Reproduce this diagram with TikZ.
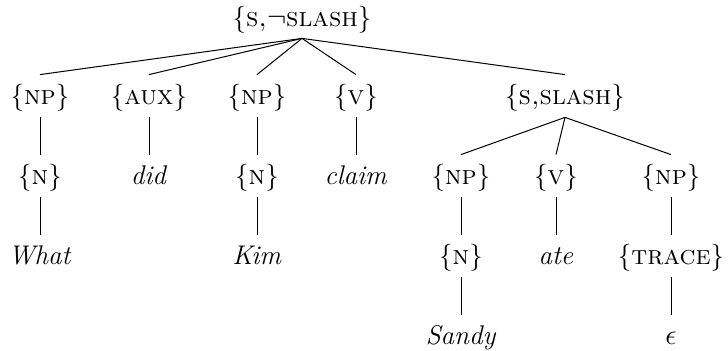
\documentclass[tikz,border=0pt]{standalone}
\begin{document}
\begin{tikzpicture}[x=0.5pt,y=-0.5pt,
  tn/.style={anchor=base, inner xsep=1pt, inner ysep=0pt,
    text height=15pt, text depth=6pt, font=\fontsize{13.5}{16}\selectfont},
  branch/.style={line width=0.5pt}]
\useasboundingbox (0,0) rectangle (728,351);

% root
\node[tn, text height=9pt, text depth=5.5pt] (root) at (302,27) {\{\textsc{s,$\neg$slash}\}};

% first level
\node[tn] (np1) at (40,105)  {\{\textsc{np}\}};
\node[tn] (aux) at (149,105) {\{\textsc{aux}\}};
\node[tn] (np2) at (257,105) {\{\textsc{np}\}};
\node[tn] (v1)  at (356,105) {\{\textsc{v}\}};
\node[tn] (ss)  at (565,105) {\{\textsc{s,slash}\}};

% second level
\node[tn] (n1)    at (40,185)  {\{\textsc{n}\}};
\node[tn] (did)   at (149,185) {\textit{did}};
\node[tn] (n2)    at (257,185) {\{\textsc{n}\}};
\node[tn] (claim) at (356,185) {\textit{claim}};
\node[tn] (np3)   at (461,185) {\{\textsc{np}\}};
\node[tn] (v2)    at (556,185) {\{\textsc{v}\}};
\node[tn] (np4)   at (671,185) {\{\textsc{np}\}};

% third level
\node[tn] (what)  at (40,265)  {\textit{What}};
\node[tn] (kim)   at (257,265) {\textit{Kim}};
\node[tn] (n3)    at (461,265) {\{\textsc{n}\}};
\node[tn] (ate)   at (556,265) {\textit{ate}};
\node[tn] (trace) at (671,265) {\{\textsc{trace}\}};

% fourth level
\node[tn] (sandy) at (461,345) {\textit{Sandy}};
\node[tn] (eps)   at (671,345) {$\epsilon$};

% branches
\foreach \c in {np1,aux,np2,v1,ss}
  \draw[branch] (root.south) -- (\c.north);
\foreach \p/\c in {np1/n1, aux/did, np2/n2, v1/claim,
                   ss/np3, ss/v2, ss/np4,
                   n1/what, n2/kim, np3/n3, v2/ate, np4/trace,
                   n3/sandy, trace/eps}
  \draw[branch] (\p.south) -- (\c.north);
\end{tikzpicture}
\end{document}
